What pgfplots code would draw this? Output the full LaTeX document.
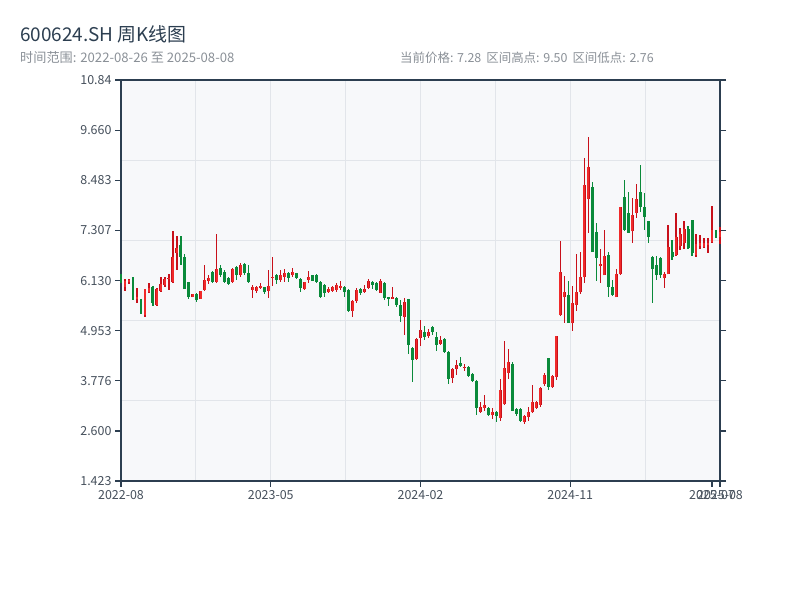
\documentclass[border=0pt]{standalone}
\usepackage{fontspec}
\setmainfont{Noto Sans CJK SC}
\usepackage{pgfplots}
\pgfplotsset{compat=1.18}
\usepackage{pgfplotstable}

\definecolor{kred}{HTML}{C8101A}
\definecolor{kredfill}{HTML}{F02A2A}
\definecolor{kgreen}{HTML}{0A8A3A}
\definecolor{spine}{HTML}{2C3E50}
\definecolor{gridc}{HTML}{E2E5EA}
\definecolor{bgc}{HTML}{F7F8FA}
\definecolor{titlec}{HTML}{2C3E50}
\definecolor{subc}{HTML}{8A9097}
\definecolor{tickc}{HTML}{46505C}

% weekly candles, up weeks (close >= open)
\pgfplotstableread{
i o h l c
1 5.98 6.17 5.89 6.12
2 6.10 6.17 6.05 6.14
4 5.70 5.96 5.60 5.74
6 5.32 5.93 5.27 5.93
7 5.86 6.07 5.84 5.96
9 5.56 5.96 5.53 5.93
10 5.89 6.21 5.86 6.05
11 6.03 6.21 5.98 6.17
12 6.17 6.28 5.91 6.19
13 6.10 7.29 6.07 6.68
14 6.78 7.18 6.38 6.90
18 5.74 5.82 5.74 5.82
20 5.70 5.89 5.70 5.89
21 5.91 6.50 5.89 6.14
22 6.12 6.26 6.05 6.19
24 6.10 7.22 6.07 6.40
28 6.10 6.43 6.07 6.40
30 6.26 6.54 6.21 6.50
33 5.91 6.03 5.72 5.98
34 5.89 6.00 5.84 5.98
35 5.96 6.07 5.93 6.00
37 5.89 6.38 5.72 6.00
38 6.19 6.68 6.00 6.21
40 6.14 6.38 6.10 6.26
41 6.21 6.40 6.10 6.31
43 6.26 6.43 6.21 6.33
46 5.93 6.10 5.91 6.10
47 6.14 6.36 6.07 6.21
52 5.86 5.98 5.84 5.93
53 5.89 6.00 5.86 5.98
54 5.91 6.07 5.86 6.03
55 5.96 6.12 5.91 6.00
58 5.42 5.67 5.27 5.65
59 5.65 5.96 5.60 5.91
61 5.86 6.03 5.84 5.93
62 5.96 6.17 5.93 6.12
65 5.84 6.17 5.84 6.12
68 5.70 5.98 5.70 5.74
71 5.27 5.72 4.85 5.63
74 4.29 4.78 4.27 4.76
75 4.78 5.20 4.59 4.97
77 4.83 4.99 4.78 4.92
80 4.64 4.83 4.62 4.74
83 3.84 4.08 3.73 4.05
84 4.05 4.27 3.91 4.15
86 4.08 4.17 4.01 4.10
90 3.04 3.28 3.02 3.16
91 3.14 3.44 3.07 3.21
93 2.97 3.14 2.88 3.04
95 2.90 3.82 2.83 3.56
96 3.23 4.71 3.21 4.08
97 3.96 4.52 3.82 4.22
101 2.81 2.97 2.76 2.95
102 2.93 3.16 2.83 3.04
103 3.04 3.68 3.02 3.28
104 3.14 3.30 3.12 3.28
105 3.21 3.63 3.16 3.61
106 3.70 3.96 3.66 3.91
108 3.63 3.91 3.61 3.89
109 3.87 4.83 3.80 4.83
110 5.32 7.06 5.30 6.33
111 5.74 6.24 5.13 5.86
113 5.13 6.00 4.95 5.60
114 5.56 6.75 5.42 5.86
115 5.86 6.80 5.82 6.21
116 6.21 9.01 6.07 8.37
117 8.05 9.50 7.25 8.80
120 6.47 6.87 6.07 6.52
121 6.26 7.32 6.26 6.71
124 5.74 6.40 5.74 6.28
125 6.28 7.86 6.26 7.86
128 7.29 8.07 7.01 7.67
129 7.72 8.40 7.60 8.05
136 6.19 6.33 5.96 6.28
137 6.28 7.44 6.28 6.92
139 6.73 7.72 6.71 7.15
140 6.94 7.37 6.85 7.22
141 7.01 7.53 6.87 7.34
144 6.73 7.22 6.68 6.99
145 6.94 7.20 6.87 7.01
146 6.92 7.13 6.90 7.01
147 6.97 7.13 6.78 7.01
148 7.04 7.88 7.01 7.32
150 7.15 7.39 6.99 7.28
}\kup

% down weeks (close < open)
\pgfplotstableread{
i o h l c
0 6.28 6.28 6.07 6.07
3 6.21 6.21 5.67 5.74
5 5.70 5.70 5.35 5.46
8 5.98 6.00 5.53 5.60
15 6.97 7.18 6.50 6.68
16 6.68 6.75 5.93 5.93
17 6.10 6.10 5.70 5.74
19 5.82 5.84 5.63 5.67
23 6.33 6.36 6.07 6.10
25 6.43 6.50 6.21 6.26
26 6.33 6.38 6.07 6.10
27 6.19 6.21 6.03 6.05
29 6.45 6.47 6.14 6.26
31 6.52 6.54 6.26 6.31
32 6.31 6.50 6.07 6.10
36 5.98 5.98 5.82 5.86
39 6.26 6.28 6.05 6.14
42 6.31 6.33 6.10 6.19
44 6.31 6.31 6.17 6.19
45 6.17 6.19 5.86 5.96
48 6.26 6.26 6.12 6.12
49 6.26 6.28 6.07 6.10
50 6.10 6.12 5.72 5.74
51 6.03 6.05 5.74 5.84
56 5.98 6.00 5.74 5.86
57 5.91 5.93 5.39 5.42
60 5.93 5.96 5.79 5.84
63 6.10 6.12 5.93 6.03
64 6.07 6.10 5.89 5.91
66 6.07 6.10 5.67 5.72
67 5.74 5.74 5.53 5.70
69 5.72 5.74 5.51 5.56
70 5.56 5.67 5.16 5.30
72 5.70 5.70 4.41 4.62
73 4.55 4.57 3.75 4.27
76 4.92 5.06 4.74 4.81
78 5.04 5.06 4.85 4.92
79 4.81 4.92 4.48 4.62
81 4.76 4.78 4.43 4.45
82 4.45 4.48 3.70 3.82
85 4.20 4.34 4.10 4.12
87 4.10 4.12 3.87 3.89
88 3.94 3.96 3.75 3.77
89 3.77 3.80 2.97 3.14
92 3.14 3.16 2.95 2.97
94 3.04 3.07 2.81 2.95
98 4.17 4.22 3.07 3.07
99 3.12 3.14 2.95 3.00
100 3.12 3.14 2.81 2.83
107 4.31 4.31 3.56 3.63
112 5.79 6.12 5.13 5.13
118 8.33 8.45 6.80 6.80
119 7.27 7.48 6.12 6.66
122 6.73 6.80 5.74 5.98
123 5.98 6.14 5.77 5.79
126 8.09 8.49 7.29 7.32
127 7.72 8.21 7.25 7.25
130 8.21 8.84 7.74 7.86
131 7.86 8.19 7.32 7.62
132 7.53 7.53 7.01 7.15
133 6.68 6.71 5.60 6.40
134 6.50 6.71 6.14 6.26
135 6.66 6.68 6.19 6.26
138 6.80 7.08 6.61 6.68
142 7.34 7.41 6.87 6.90
143 7.55 7.55 6.71 6.78
149 7.32 7.32 7.13 7.18
}\kdown

\begin{document}
\begin{tikzpicture}
\path[use as bounding box] (0,0) rectangle (800bp,600bp);

\node[anchor=base west, inner sep=0, text=titlec, font=\fontsize{19}{22}\selectfont] at (20bp,558bp) {600624.SH 周K线图};
\node[anchor=base west, inner sep=0, text=subc, font=\fontsize{13.2}{15}\selectfont] at (20bp,537bp) {时间范围: 2022-08-26 至 2025-08-08};
\node[anchor=base west, inner sep=0, text=subc, font=\fontsize{12.5}{15}\selectfont] at (400bp,537bp) {当前价格: 7.28\hspace{0.4em}区间高点: 9.50\hspace{0.4em}区间低点: 2.76};

\begin{axis}[
    at={(121bp,119bp)}, anchor=south west,
    width=599bp, height=401bp, scale only axis,
    xmin=0, xmax=150, ymin=1.423, ymax=10.84,
    clip=false,
    axis background/.style={fill=bgc},
    axis line style={spine, line width=1.3bp},
    xtick={0,37.5,75,112.5,148,150},
    xticklabels={2022-08,2023-05,2024-02,2024-11,2025-07,2025-08},
    ytick={1.423,2.6,3.776,4.953,6.13,7.307,8.483,9.66,10.84},
    yticklabels={1.423,2.600,3.776,4.953,6.130,7.307,8.483,9.660,10.84},
    xtick pos=left, ytick pos=both, yticklabel pos=left,
    tick align=outside, major tick length=6bp,
    major tick style={spine, line width=1.3bp},
    minor xtick={18.75,37.5,56.25,75,93.75,112.5,131.25},
    minor ytick={3.3064,5.1898,7.0732,8.9566},
    xminorgrids, yminorgrids, minor tick length=0pt,
    minor grid style={gridc, line width=0.9bp},
    ticklabel style={font=\fontsize{12.5}{14}\selectfont, text=tickc},
    candle/.style={draw=none, mark=none, error bars/y explicit, error bars/error mark=none},
]

\draw[spine, line width=2.2bp] (rel axis cs:0,1) -- (rel axis cs:0,0) -- (rel axis cs:1,0);

% wicks
\addplot[candle, error bars/.cd, y dir=both,
    error bar style={draw=kred, line width=1.2bp}]
    table[x=i, y=o, y error plus expr=\thisrow{h}-\thisrow{o}, y error minus expr=\thisrow{o}-\thisrow{l}] {\kup};
\addplot[candle, error bars/.cd, y dir=both,
    error bar style={draw=kgreen, line width=1.2bp}]
    table[x=i, y=o, y error plus expr=\thisrow{h}-\thisrow{o}, y error minus expr=\thisrow{o}-\thisrow{l}] {\kdown};

% bodies
\addplot[candle, error bars/.cd, y dir=plus,
    error bar style={draw=kred, line width=2.9bp}]
    table[x=i, y=o, y error plus expr=\thisrow{c}-\thisrow{o}] {\kup};
\addplot[candle, error bars/.cd, y dir=plus,
    error bar style={draw=kredfill, line width=1.8bp}]
    table[x=i, y=o, y error plus expr=\thisrow{c}-\thisrow{o}] {\kup};
\addplot[candle, error bars/.cd, y dir=plus,
    error bar style={draw=kgreen, line width=2.9bp}]
    table[x=i, y=c, y error plus expr=\thisrow{o}-\thisrow{c}] {\kdown};
\end{axis}
\end{tikzpicture}
\end{document}
